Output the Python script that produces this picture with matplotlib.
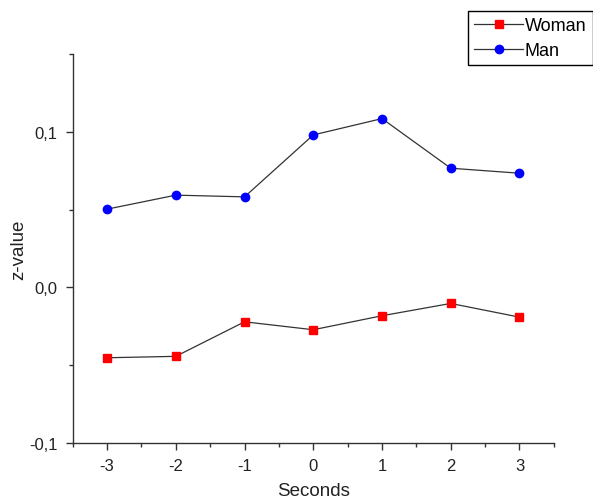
import matplotlib.pyplot as plt
from matplotlib.ticker import FuncFormatter, MultipleLocator

plt.rcParams['font.family'] = ['Liberation Sans', 'DejaVu Sans']
plt.rcParams['axes.unicode_minus'] = False

seconds = [-3, -2, -1, 0, 1, 2, 3]
woman = [-0.0452, -0.0443, -0.0221, -0.0272, -0.0182, -0.0103, -0.0191]
man = [0.0503, 0.0593, 0.0582, 0.098, 0.1085, 0.0766, 0.0734]

fig = plt.figure(figsize=(5.93, 5.02), dpi=100, facecolor='w')
ax = fig.add_axes([0.1226, 0.1155, 0.934 - 0.1226, 0.8904 - 0.1155])

ax.plot(seconds, woman, color='#333333', lw=0.9, marker='s', ms=5.5,
        mfc='#ff0000', mec='#ff0000', label='Woman')
ax.plot(seconds, man, color='#333333', lw=0.9, marker='o', ms=6,
        mfc='#0000ff', mec='#0000ff', label='Man')

# Decorations
ax.set_xlim(-3.5, 3.5)
ax.set_ylim(-0.1, 0.15)
ax.xaxis.set_major_locator(MultipleLocator(1))
ax.xaxis.set_minor_locator(MultipleLocator(0.5))
ax.yaxis.set_major_locator(MultipleLocator(0.1))
ax.yaxis.set_minor_locator(MultipleLocator(0.05))
ax.yaxis.set_major_formatter(FuncFormatter(lambda v, p: f'{v:.1f}'.replace('.', ',').replace('-0,0', '0,0')))
ax.spines['top'].set_visible(False)
ax.spines['right'].set_visible(False)
for s in ['left', 'bottom']:
    ax.spines[s].set_color('#333333')
    ax.spines[s].set_linewidth(1.0)
ax.tick_params(which='major', direction='out', length=5, width=1, color='#333333',
               labelsize=12, labelcolor='#222222', pad=6)
ax.tick_params(which='minor', direction='out', length=3, width=1, color='#333333')
ax.set_xlabel('Seconds', fontsize=13.5, color='#222222', labelpad=6)
ax.set_ylabel('z-value', fontsize=13.5, color='#222222', labelpad=1)

fig.legend(loc='upper left', bbox_to_anchor=(0.789, 0.977), fontsize=13,
           frameon=True, fancybox=False, edgecolor='black', framealpha=1,
           handlelength=2.7, handletextpad=0.1, borderpad=0.35,
           labelspacing=0.45, borderaxespad=0)

fig.savefig('out.png', dpi=100)
